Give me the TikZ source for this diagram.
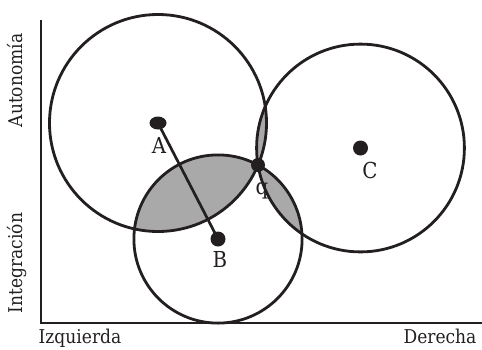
\documentclass[tikz,border=0pt]{standalone}
\usepackage{fontspec}
\setmainfont{DejaVu Serif Condensed}
\usetikzlibrary{calc,shapes.geometric}
\definecolor{ink}{HTML}{231F20}
\definecolor{shadegray}{HTML}{A9A9A9}
\begin{document}
\begin{tikzpicture}[x=1pt,y=-1pt,
  ring/.style={draw=ink,line width=2.8pt},
  axisline/.style={draw=ink,line width=2.8pt},
  link/.style={draw=ink,line width=2.7pt},
  dot/.style={circle,fill=ink,draw=none,minimum size=15pt,inner sep=0pt},
  ptlbl/.style={text=ink,inner sep=0pt,font=\fontsize{22}{26}\selectfont},
  axlbl/.style={text=ink,inner sep=0pt,font=\fontsize{19}{23}\selectfont}]
\useasboundingbox (0,0) rectangle (482,349);
\def\rA{108.5pt}
\def\rB{84.1pt}
\def\rC{103.9pt}
\coordinate (cA) at (158,123);
\coordinate (cB) at (218,239);
\coordinate (cC) at (360.5,148);
\coordinate (cq) at (258,165);
% shaded pairwise intersections
\begin{scope}
  \clip (cA) circle[radius=\rA];
  \fill[shadegray] (cB) circle[radius=\rB];
  \fill[shadegray] (cC) circle[radius=\rC];
\end{scope}
\begin{scope}
  \clip (cB) circle[radius=\rB];
  \fill[shadegray] (cC) circle[radius=\rC];
\end{scope}
% circles
\draw[ring] (cA) circle[radius=\rA];
\draw[ring] (cB) circle[radius=\rB];
\draw[ring] (cC) circle[radius=\rC];
% axes
\coordinate (ytop) at (41,20);
\coordinate (orig) at (41,323);
\coordinate (xend) at (482,323);
\draw[axisline] (ytop) -- (orig) -- (xend);
% dots
\node[dot,ellipse,minimum width=17pt,minimum height=13pt] (A) at (cA) {};
\node[dot] (B) at (cB) {};
\node[dot] (C) at (cC) {};
\node[dot,minimum size=14pt] (q) at (cq) {};
\draw[link] (A.center) -- (B.center);
% labels
\node[ptlbl,anchor=base] (la) at (159,153) {A};
\node[ptlbl,anchor=base] (lb) at (220,267) {B};
\node[ptlbl,anchor=base] (lc) at (370,178) {C};
\node[ptlbl,anchor=base] (lq) at (262,194) {q};
\node[axlbl,anchor=base] (izq) at (80,343) {Izquierda};
\node[axlbl,anchor=base] (der) at (440,343) {Derecha};
\node[axlbl,rotate=90,anchor=base] (aut) at (23,80.5) {Autonomía};
\node[axlbl,rotate=90,anchor=base] (integ) at (23,263) {Integración};
\end{tikzpicture}
\end{document}
